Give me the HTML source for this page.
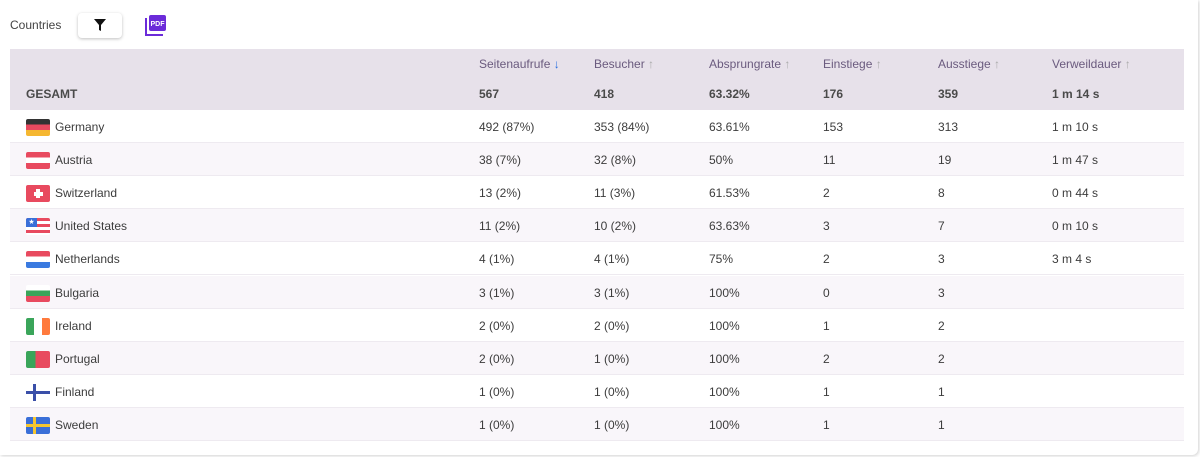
<!DOCTYPE html>
<html><head><meta charset="utf-8"><style>
body{margin:0;width:1200px;height:457px;background:#fff;font-family:"Liberation Sans",sans-serif;font-size:12px;color:#3c3c3c;position:relative;overflow:hidden}
.card{position:absolute;left:0;top:0;width:1198px;height:455px;border-radius:0 0 6px 0;box-shadow:1px 1px 3px rgba(0,0,0,.18)}
.a{position:absolute;white-space:nowrap}
.hdr{position:absolute;left:10px;top:49px;width:1174px;height:61px;background:#e7e1ea}
.row{position:absolute;left:10px;width:1174px;height:33px;border-bottom:1px solid #eeeaf0;box-sizing:border-box}
.alt{background:#f9f6fa}
.h{color:#6a5a7e;font-size:12px}
.t{font-weight:bold;color:#4a4a4a;font-size:12px}
.flag{position:absolute;left:26px;width:24px;height:17px;border-radius:2px;overflow:hidden}
</style></head><body>
<div class="card"></div>
<div class="a" style="left:10px;top:18px;color:#444;font-size:12px">Countries</div>
<div class="a" style="left:78px;top:13px;width:44px;height:25px;border-radius:4px;box-shadow:0 1px 3px rgba(0,0,0,.25);background:#fff"></div>
<svg class="a" style="left:94px;top:19px" width="12" height="12"><path d="M0 0H12L7 6V12L5 11V6Z" fill="#111"/></svg>
<svg class="a" style="left:144px;top:14px" width="23" height="23"><path d="M2 4V21H19" stroke="#6b2bd9" stroke-width="2" fill="none"/><rect x="5" y="1" width="17" height="16" rx="2" fill="#6b2bd9"/><text x="13.5" y="12" font-size="7" font-weight="bold" fill="#fff" text-anchor="middle" font-family="Liberation Sans">PDF</text></svg>
<div class="hdr"></div>
<div class="a h" style="left:479px;top:57px">Seitenaufrufe <span style="color:#2a6fe0">↓</span></div>
<div class="a h" style="left:594px;top:57px">Besucher <span style="color:#aaa">↑</span></div>
<div class="a h" style="left:709px;top:57px">Absprungrate <span style="color:#aaa">↑</span></div>
<div class="a h" style="left:823px;top:57px">Einstiege <span style="color:#aaa">↑</span></div>
<div class="a h" style="left:938px;top:57px">Ausstiege <span style="color:#aaa">↑</span></div>
<div class="a h" style="left:1052px;top:57px">Verweildauer <span style="color:#aaa">↑</span></div>
<div class="a t" style="left:26px;top:87px">GESAMT</div>
<div class="a t" style="left:479px;top:87px">567</div>
<div class="a t" style="left:594px;top:87px">418</div>
<div class="a t" style="left:709px;top:87px">63.32%</div>
<div class="a t" style="left:823px;top:87px">176</div>
<div class="a t" style="left:938px;top:87px">359</div>
<div class="a t" style="left:1052px;top:87px">1 m 14 s</div>

<div class="row" style="top:110px"></div>
<div class="row alt" style="top:143px"></div>
<div class="row" style="top:176px"></div>
<div class="row alt" style="top:209px"></div>
<div class="row" style="top:242px"></div>
<div class="row alt" style="top:276px"></div>
<div class="row" style="top:309px"></div>
<div class="row alt" style="top:342px"></div>
<div class="row" style="top:375px"></div>
<div class="row alt" style="top:408px"></div>

<!-- flags -->
<div class="flag" style="top:119px;background:linear-gradient(#333 0 33%,#e84a5f 33% 66%,#f5b731 66%)"></div>
<div class="flag" style="top:152px;background:linear-gradient(#e84a5f 0 33%,#fff 33% 66%,#e84a5f 66%)"></div>
<div class="flag" style="top:185px;background:#e84a5f"><div style="position:absolute;left:10px;top:4px;width:4px;height:9px;background:#fff"></div><div style="position:absolute;left:7.5px;top:6.5px;width:9px;height:4px;background:#fff"></div></div>
<div class="flag" style="top:218px;background:repeating-linear-gradient(#e84a5f 0 3px,#fff 3px 6px)"><div style="position:absolute;left:0;top:0;width:11px;height:9px;background:#3a6fd8;color:#fff;font-size:7px;line-height:9px;text-align:center">★</div></div>
<div class="flag" style="top:251px;background:linear-gradient(#e84a5f 0 33%,#fff 33% 66%,#3a7ae0 66%)"></div>
<div class="flag" style="top:285px;background:linear-gradient(#fff 0 33%,#3aa55a 33% 66%,#e84a5f 66%)"></div>
<div class="flag" style="top:318px;background:linear-gradient(90deg,#3aa55a 0 33%,#fff 33% 66%,#ff7a3d 66%)"></div>
<div class="flag" style="top:351px;background:linear-gradient(90deg,#3aa55a 0 40%,#e84a5f 40%)"></div>
<div class="flag" style="top:384px;background:#fff"><div style="position:absolute;left:0;top:7px;width:24px;height:3px;background:#3a4fa8"></div><div style="position:absolute;left:7px;top:0;width:3px;height:17px;background:#3a4fa8"></div></div>
<div class="flag" style="top:417px;background:#3a6fd8"><div style="position:absolute;left:0;top:7px;width:24px;height:3px;background:#f5c631"></div><div style="position:absolute;left:7px;top:0;width:3px;height:17px;background:#f5c631"></div></div>

<div class="a" style="left:55px;top:120px">Germany</div>
<div class="a" style="left:55px;top:153px">Austria</div>
<div class="a" style="left:55px;top:186px">Switzerland</div>
<div class="a" style="left:55px;top:219px">United States</div>
<div class="a" style="left:55px;top:252px">Netherlands</div>
<div class="a" style="left:55px;top:286px">Bulgaria</div>
<div class="a" style="left:55px;top:319px">Ireland</div>
<div class="a" style="left:55px;top:352px">Portugal</div>
<div class="a" style="left:55px;top:385px">Finland</div>
<div class="a" style="left:55px;top:418px">Sweden</div>

<div class="a" style="left:479px;top:120px">492 (87%)</div><div class="a" style="left:594px;top:120px">353 (84%)</div><div class="a" style="left:709px;top:120px">63.61%</div><div class="a" style="left:823px;top:120px">153</div><div class="a" style="left:938px;top:120px">313</div><div class="a" style="left:1052px;top:120px">1 m 10 s</div>
<div class="a" style="left:479px;top:153px">38 (7%)</div><div class="a" style="left:594px;top:153px">32 (8%)</div><div class="a" style="left:709px;top:153px">50%</div><div class="a" style="left:823px;top:153px">11</div><div class="a" style="left:938px;top:153px">19</div><div class="a" style="left:1052px;top:153px">1 m 47 s</div>
<div class="a" style="left:479px;top:186px">13 (2%)</div><div class="a" style="left:594px;top:186px">11 (3%)</div><div class="a" style="left:709px;top:186px">61.53%</div><div class="a" style="left:823px;top:186px">2</div><div class="a" style="left:938px;top:186px">8</div><div class="a" style="left:1052px;top:186px">0 m 44 s</div>
<div class="a" style="left:479px;top:219px">11 (2%)</div><div class="a" style="left:594px;top:219px">10 (2%)</div><div class="a" style="left:709px;top:219px">63.63%</div><div class="a" style="left:823px;top:219px">3</div><div class="a" style="left:938px;top:219px">7</div><div class="a" style="left:1052px;top:219px">0 m 10 s</div>
<div class="a" style="left:479px;top:252px">4 (1%)</div><div class="a" style="left:594px;top:252px">4 (1%)</div><div class="a" style="left:709px;top:252px">75%</div><div class="a" style="left:823px;top:252px">2</div><div class="a" style="left:938px;top:252px">3</div><div class="a" style="left:1052px;top:252px">3 m 4 s</div>
<div class="a" style="left:479px;top:286px">3 (1%)</div><div class="a" style="left:594px;top:286px">3 (1%)</div><div class="a" style="left:709px;top:286px">100%</div><div class="a" style="left:823px;top:286px">0</div><div class="a" style="left:938px;top:286px">3</div>
<div class="a" style="left:479px;top:319px">2 (0%)</div><div class="a" style="left:594px;top:319px">2 (0%)</div><div class="a" style="left:709px;top:319px">100%</div><div class="a" style="left:823px;top:319px">1</div><div class="a" style="left:938px;top:319px">2</div>
<div class="a" style="left:479px;top:352px">2 (0%)</div><div class="a" style="left:594px;top:352px">1 (0%)</div><div class="a" style="left:709px;top:352px">100%</div><div class="a" style="left:823px;top:352px">2</div><div class="a" style="left:938px;top:352px">2</div>
<div class="a" style="left:479px;top:385px">1 (0%)</div><div class="a" style="left:594px;top:385px">1 (0%)</div><div class="a" style="left:709px;top:385px">100%</div><div class="a" style="left:823px;top:385px">1</div><div class="a" style="left:938px;top:385px">1</div>
<div class="a" style="left:479px;top:418px">1 (0%)</div><div class="a" style="left:594px;top:418px">1 (0%)</div><div class="a" style="left:709px;top:418px">100%</div><div class="a" style="left:823px;top:418px">1</div><div class="a" style="left:938px;top:418px">1</div>
</body></html>
